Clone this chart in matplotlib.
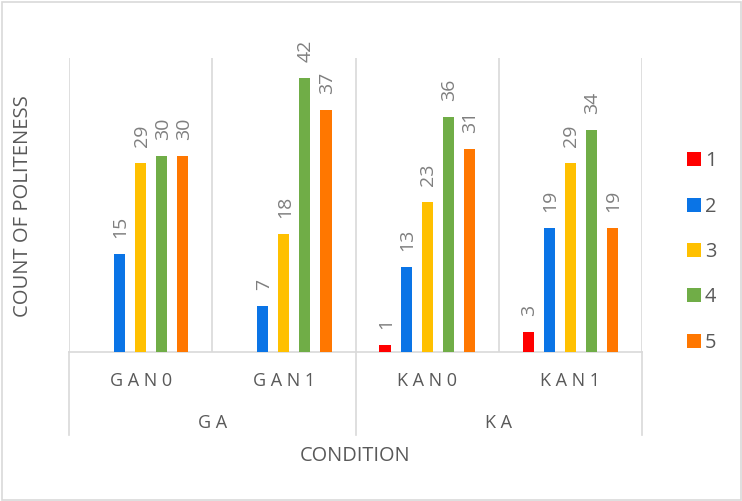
import numpy as np
import matplotlib
matplotlib.use("Agg")
import matplotlib.pyplot as plt
from matplotlib.lines import Line2D
from matplotlib.patches import Rectangle
import matplotlib.transforms as mtransforms

plt.rcParams['font.family'] = ['Open Sans', 'DejaVu Sans']

# Data
conditions = ["GAN0", "GAN1", "KAN0", "KAN1"]
groups = ["GA", "KA"]
series_names = ["1", "2", "3", "4", "5"]
s1 = [np.nan, np.nan, 1, 3]
s2 = [15, 7, 13, 19]
s3 = [29, 18, 23, 29]
s4 = [30, 42, 36, 34]
s5 = [30, 37, 31, 19]
series_values = [s1, s2, s3, s4, s5]
colors = ["#FF0000", "#0A74E6", "#FFC000", "#70AD47", "#FF7700"]

GRID = "#D9D9D9"
TEXT = "#595959"
LABEL = "#7F7F7F"

W, H = 742, 501
fig = plt.figure(figsize=(W / 100, H / 100), dpi=100)
ax = fig.add_axes([69 / W, 1 - 352 / H, (642 - 69) / W, (352 - 58) / H])

x = np.arange(len(conditions))
n = len(series_values)
step = 0.147
width = 0.077

for i, (vals, col) in enumerate(zip(series_values, colors)):
    offs = (i - (n - 1) / 2) * step
    ax.bar(x + offs, vals, width=width, color=col, zorder=3)
    for xi, v in zip(x + offs, vals):
        if np.isnan(v):
            continue
        ax.annotate(f"{v:g}", (xi, v), xytext=(1, 16), textcoords="offset pixels",
                    rotation=90, ha="center", va="bottom", fontsize=14,
                    color=LABEL)

ax.set_xlim(-0.5, len(conditions) - 0.5)
ax.set_ylim(0, 45)
ax.set_yticks([])
ax.set_xticks([])
for side in ["top", "right", "left"]:
    ax.spines[side].set_visible(False)
ax.spines["bottom"].set_color(GRID)
ax.spines["bottom"].set_linewidth(1.2)
ax.set_facecolor("none")

# vertical separators between categories
for b in np.arange(-0.5, len(conditions), 1.0):
    ax.axvline(b, color=GRID, lw=1.2, zorder=1)

# multi-level category axis
tr = mtransforms.blended_transform_factory(ax.transData, ax.transAxes)
for xi, name in zip(x, conditions):
    ax.text(xi, -0.097, " ".join(name), transform=tr, ha="center", va="center",
            fontsize=13, color=TEXT)
per_group = len(conditions) // len(groups)
for gi, g in enumerate(groups):
    center = gi * per_group + (per_group - 1) / 2
    ax.text(center, -0.24, " ".join(g), transform=tr, ha="center", va="center",
            fontsize=13, color=TEXT)
for gi in range(len(groups) + 1):
    bx = gi * per_group - 0.5
    ax.plot([bx, bx], [0, -0.282], transform=tr, color=GRID, lw=1.2,
            clip_on=False)

fig.text(355.5 / W, 1 - 456 / H, "CONDITION", ha="center", va="center",
         fontsize=14.4, color=TEXT)
fig.text(23 / W, 1 - 206 / H, "COUNT OF POLITENESS", ha="center", va="center",
         rotation=90, fontsize=14.6, color=TEXT)

handles = [Line2D([], [], marker="s", linestyle="", markersize=10,
                  markerfacecolor=c, markeredgewidth=0) for c in colors]
fig.legend(handles, series_names, loc="center left",
           bbox_to_anchor=(676 / W, 1 - 252 / H), frameon=False,
           fontsize=14.4, labelcolor=TEXT, handlelength=0.75,
           handletextpad=0.2, labelspacing=1.27, borderpad=0)

fig.patches.append(Rectangle((1.5 / W, 1.5 / H), (W - 3) / W, (H - 3) / H,
                             transform=fig.transFigure, fill=False,
                             edgecolor=GRID, lw=1.2))

fig.savefig("out.png", dpi=100, facecolor="white")
